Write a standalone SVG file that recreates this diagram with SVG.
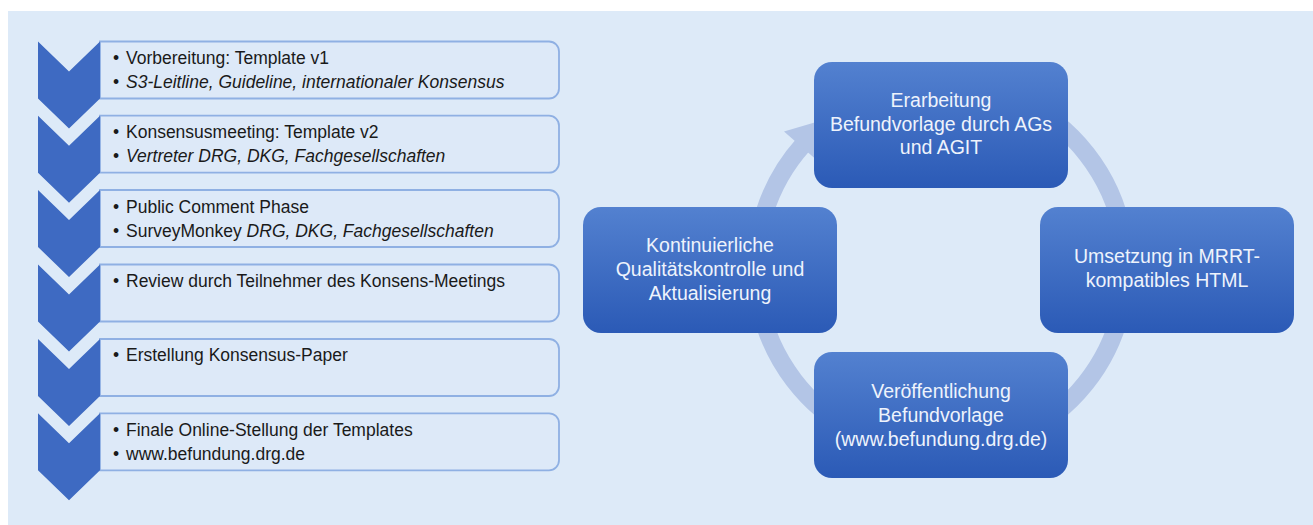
<svg xmlns="http://www.w3.org/2000/svg" width="1313" height="525" viewBox="0 0 1313 525">
<defs>
<linearGradient id="bg" x1="0" y1="0" x2="0" y2="1">
<stop offset="0" stop-color="#5381d0"/>
<stop offset="1" stop-color="#2b5ab6"/>
</linearGradient>
<style>
.step{fill:#dde9f8;stroke:#8fb0e3;stroke-width:1.8}
.chev{fill:#3e6ac2}
.lt{font-family:"Liberation Sans",Arial,sans-serif;font-size:17.5px;fill:#1a1a1a}
.it{font-style:italic}
.node{fill:url(#bg)}
.nt{font-family:"Liberation Sans",Arial,sans-serif;font-size:19.5px;fill:#eef3fc;text-anchor:middle}
.ring{fill:none;stroke:#b3c5e6;stroke-width:18}
.head{fill:#b3c5e6}
</style>
</defs>
<rect x="0" y="0" width="1313" height="525" fill="#ffffff"/>
<rect x="8" y="11" width="1305" height="514" fill="#ddeaf8"/>

<g id="step1">
<path class="step" d="M100,41.5 H549 A10,10 0 0 1 559,51.5 V88.5 A10,10 0 0 1 549,98.5 H100 Z"/>
<polygon class="chev" points="38,41.5 69,71.5 100,41.5 100,98.5 69,128.5 38,98.5"/>
<text class="lt" x="113" y="64">•</text><text class="lt" x="126" y="64">Vorbereitung: Template v1</text>
<text class="lt" x="113" y="88">•</text><text class="lt it" x="126" y="88">S3-Leitline, Guideline, internationaler Konsensus</text>
</g>
<g id="step2">
<path class="step" d="M100,115.7 H549 A10,10 0 0 1 559,125.7 V162.7 A10,10 0 0 1 549,172.7 H100 Z"/>
<polygon class="chev" points="38,115.7 69,145.7 100,115.7 100,172.7 69,202.7 38,172.7"/>
<text class="lt" x="113" y="138.3">•</text><text class="lt" x="126" y="138.3">Konsensusmeeting: Template v2</text>
<text class="lt" x="113" y="162.3">•</text><text class="lt it" x="126" y="162.3">Vertreter DRG, DKG, Fachgesellschaften</text>
</g>
<g id="step3">
<path class="step" d="M100,190 H549 A10,10 0 0 1 559,200 V237 A10,10 0 0 1 549,247 H100 Z"/>
<polygon class="chev" points="38,190 69,220 100,190 100,247 69,277 38,247"/>
<text class="lt" x="113" y="212.5">•</text><text class="lt" x="126" y="212.5">Public Comment Phase</text>
<text class="lt" x="113" y="236.5">•</text><text class="lt" x="126" y="236.5">SurveyMonkey  <tspan class="it">DRG, DKG, Fachgesellschaften</tspan></text>
</g>
<g id="step4">
<path class="step" d="M100,264.5 H549 A10,10 0 0 1 559,274.5 V311.5 A10,10 0 0 1 549,321.5 H100 Z"/>
<polygon class="chev" points="38,264.5 69,294.5 100,264.5 100,321.5 69,351.5 38,321.5"/>
<text class="lt" x="113" y="286.5">•</text><text class="lt" x="126" y="286.5">Review durch Teilnehmer des Konsens-Meetings</text>
</g>
<g id="step5">
<path class="step" d="M100,339 H549 A10,10 0 0 1 559,349 V386 A10,10 0 0 1 549,396 H100 Z"/>
<polygon class="chev" points="38,339 69,369 100,339 100,396 69,426 38,396"/>
<text class="lt" x="113" y="361">•</text><text class="lt" x="126" y="361">Erstellung Konsensus-Paper</text>
</g>
<g id="step6">
<path class="step" d="M100,413.3 H549 A10,10 0 0 1 559,423.3 V460.3 A10,10 0 0 1 549,470.3 H100 Z"/>
<polygon class="chev" points="38,413.3 69,443.3 100,413.3 100,470.3 69,500.3 38,470.3"/>
<text class="lt" x="113" y="435.8">•</text><text class="lt" x="126" y="435.8">Finale Online-Stellung der Templates</text>
<text class="lt" x="113" y="459.8">•</text><text class="lt" x="126" y="459.8">www.befundung.drg.de</text>
</g>

<g id="connectors">
<path class="ring" d="M941,83 A185,185 0 1 1 803.5,144.2"/>
<polygon class="head" points="784,131.5 834.9,116.4 818.7,161.7"/>
</g>

<g id="node-top">
<rect class="node" x="814" y="62" width="254" height="126" rx="18"/>
<text class="nt" x="941" y="106.7">Erarbeitung</text>
<text class="nt" x="941" y="130.7">Befundvorlage durch AGs</text>
<text class="nt" x="941" y="154.4">und AGIT</text>
</g>
<g id="node-right">
<rect class="node" x="1040" y="207" width="254" height="126" rx="18"/>
<text class="nt" x="1167" y="263.3">Umsetzung in MRRT-</text>
<text class="nt" x="1167" y="286.9">kompatibles HTML</text>
</g>
<g id="node-bottom">
<rect class="node" x="814" y="352" width="254" height="126" rx="18"/>
<text class="nt" x="941" y="398.3">Veröffentlichung</text>
<text class="nt" x="941" y="421.9">Befundvorlage</text>
<text class="nt" x="941" y="445.5">(www.befundung.drg.de)</text>
</g>
<g id="node-left">
<rect class="node" x="583" y="207" width="254" height="126" rx="18"/>
<text class="nt" x="710" y="251.7">Kontinuierliche</text>
<text class="nt" x="710" y="275.7">Qualitätskontrolle und</text>
<text class="nt" x="710" y="299.7">Aktualisierung</text>
</g>
</svg>
